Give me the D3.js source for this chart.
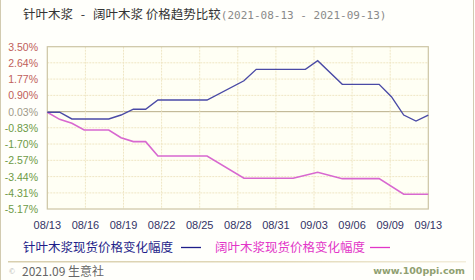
<!DOCTYPE html>
<html><head><meta charset="utf-8">
<script src="https://cdn.jsdelivr.net/npm/d3@7"></script>
<style>
html,body{margin:0;padding:0;background:#fff;}
svg{display:block;}
</style></head>
<body>
<svg id="c" width="475" height="280"></svg>
<script>
const titleParts = ["针叶木浆", "-", "阔叶木浆 价格趋势比较"];
const titleRange = "(2021-08-13 - 2021-09-13)";
const yTicks = [3.50, 2.64, 1.77, 0.90, 0.03, -0.83, -1.70, -2.57, -3.44, -4.31, -5.17];
const xTickLabels = ["08/13","08/16","08/19","08/22","08/25","08/28","08/31","09/03","09/06","09/09","09/13"];
const startDate = "2021-08-13", endDate = "2021-09-13";
const softDates = ["2021-08-13","2021-08-14","2021-08-15","2021-08-18","2021-08-19","2021-08-20","2021-08-21","2021-08-22","2021-08-26","2021-08-29","2021-08-30","2021-09-03","2021-09-04","2021-09-06","2021-09-09","2021-09-10","2021-09-11","2021-09-12","2021-09-13"];
const softValues = [0, 0, -0.36, -0.36, -0.15, 0.16, 0.16, 0.65, 0.65, 1.68, 2.29, 2.29, 2.75, 1.49, 1.49, 0.83, -0.15, -0.47, -0.15];
const hardDates = ["2021-08-13","2021-08-14","2021-08-15","2021-08-16","2021-08-18","2021-08-19","2021-08-20","2021-08-21","2021-08-22","2021-08-26","2021-08-29","2021-09-02","2021-09-04","2021-09-06","2021-09-09","2021-09-11","2021-09-13"];
const hardValues = [0, -0.38, -0.59, -0.95, -0.95, -1.36, -1.57, -1.57, -2.34, -2.34, -3.53, -3.53, -3.21, -3.55, -3.55, -4.38, -4.38];
const legendSoft = "针叶木浆现货价格变化幅度";
const legendHard = "阔叶木浆现货价格变化幅度";
const footerLeft = "2021.09 生意社";
const footerRight = "www.100ppi.com";

const svg = d3.select("#c");
const L = 47.3, R = 428.3, T = 46.7, B = 209;
const parse = d3.timeParse("%Y-%m-%d");
const x = d3.scaleTime().domain([parse(startDate), parse(endDate)]).range([L, R]);
const xi = d3.scaleLinear().domain([0, xTickLabels.length - 1]).range([L, R]);
const y = d3.scaleLinear().domain([yTicks[yTicks.length-1], yTicks[0]]).range([B, T]);

// background
svg.append("rect").attr("x",0).attr("y",0).attr("width",475).attr("height",280).attr("fill","#fffffb");
svg.append("line").attr("x1",0.5).attr("x2",0.5).attr("y1",0).attr("y2",280).attr("stroke","#d2cbb0");
svg.append("line").attr("x1",473.5).attr("x2",473.5).attr("y1",0).attr("y2",280).attr("stroke","#d2cbb0");

// title
const tf = "'Noto Sans CJK SC', sans-serif";
svg.append("text").attr("x",23).attr("y",19).attr("font-size",12.5).attr("font-family",tf).attr("fill","#333").text(titleParts[0]);
svg.append("text").attr("x",83).attr("y",19).attr("font-size",12.5).attr("font-family",tf).attr("fill","#333").attr("text-anchor","middle").text(titleParts[1]);
const tt = svg.append("text").attr("x",93).attr("y",19).attr("font-size",12.5).attr("font-family",tf);
tt.append("tspan").attr("fill","#333").text(titleParts[2]);
tt.append("tspan").attr("fill","#8a8a8a").attr("font-family","'DejaVu Sans Mono', monospace").attr("font-size",11).text(titleRange);

// plot bg
svg.append("rect").attr("x",L).attr("y",T).attr("width",R-L).attr("height",B-T).attr("fill","#fffff4");

// grid
const g = svg.append("g");
yTicks.forEach((t,i) => {
  if (i===0 || i===yTicks.length-1) return;
  g.append("line").attr("x1",L).attr("x2",R).attr("y1",y(t)).attr("y2",y(t))
   .attr("stroke", i===4 ? "#b8ae88" : "#efe6c4").attr("stroke-width", 1)
   .attr("stroke-dasharray", i===4 ? null : "2,1");
});
xTickLabels.forEach((l,i) => {
  if (i===0 || i===xTickLabels.length-1) return;
  g.append("line").attr("x1",xi(i)).attr("x2",xi(i)).attr("y1",T).attr("y2",B)
   .attr("stroke","#efe6c4").attr("stroke-dasharray","2,1");
});
svg.append("rect").attr("x",L).attr("y",T).attr("width",R-L).attr("height",B-T)
  .attr("fill","none").attr("stroke","#cdc5a4").attr("stroke-width",1.2);

// y labels
yTicks.forEach((t,i) => {
  svg.append("text").attr("x",38).attr("y",y(t)+4).attr("text-anchor","end")
    .attr("font-size",10.5).attr("font-family","'Liberation Sans', Arial, sans-serif")
    .attr("fill", i<4 ? "#c0605a" : (i===4 ? "#a09a8a" : "#6d9a45"))
    .text(t.toFixed(2) + "%");
});
// x labels
xTickLabels.forEach((l,i) => {
  svg.append("text").attr("x",xi(i)).attr("y",229).attr("text-anchor","middle")
    .attr("font-size",11).attr("font-family","'Liberation Sans', Arial, sans-serif")
    .attr("fill","#333366").text(l);
});

// lines
const line = d3.line().x(d => x(parse(d[0]))).y(d => y(d[1]));
svg.append("path").datum(hardDates.map((d,i)=>[d,hardValues[i]]))
  .attr("d",line).attr("fill","none").attr("stroke","#d868d0").attr("stroke-width",1.6);
svg.append("path").datum(softDates.map((d,i)=>[d,softValues[i]]))
  .attr("d",line).attr("fill","none").attr("stroke","#4a4aa6").attr("stroke-width",1.4);

// legend
svg.append("text").attr("x",23).attr("y",252).attr("font-size",12.5)
  .attr("font-family",tf).attr("fill","#1e1e8a").text(legendSoft);
svg.append("line").attr("x1",181).attr("x2",201).attr("y1",247.5).attr("y2",247.5).attr("stroke","#1e1e8a").attr("stroke-width",1.3);
svg.append("text").attr("x",215).attr("y",252).attr("font-size",12.5)
  .attr("font-family",tf).attr("fill","#e236c8").text(legendHard);
svg.append("line").attr("x1",370).attr("x2",390).attr("y1",247.5).attr("y2",247.5).attr("stroke","#e236c8").attr("stroke-width",1.3);

// separator
const grad = svg.append("defs").append("linearGradient").attr("id","sep");
grad.append("stop").attr("offset","0%").attr("stop-color","#d8cfae");
grad.append("stop").attr("offset","60%").attr("stop-color","#e2d9b8");
grad.append("stop").attr("offset","100%").attr("stop-color","#f3eedb");
svg.append("rect").attr("x",8).attr("y",261).attr("width",458).attr("height",1.5).attr("fill","url(#sep)");

// footer
svg.append("text").attr("x",9).attr("y",274).attr("font-size",8).attr("fill","#aaa").text("©");
svg.append("text").attr("x",22).attr("y",276).attr("font-size",12)
  .attr("font-family",tf).attr("fill","#666").text(footerLeft);
svg.append("text").attr("x",465).attr("y",274).attr("text-anchor","end").attr("font-size",9.5)
  .attr("font-family","'DejaVu Sans', sans-serif").attr("font-weight","bold").attr("fill","#8fa070").text(footerRight);
</script>
</body></html>
